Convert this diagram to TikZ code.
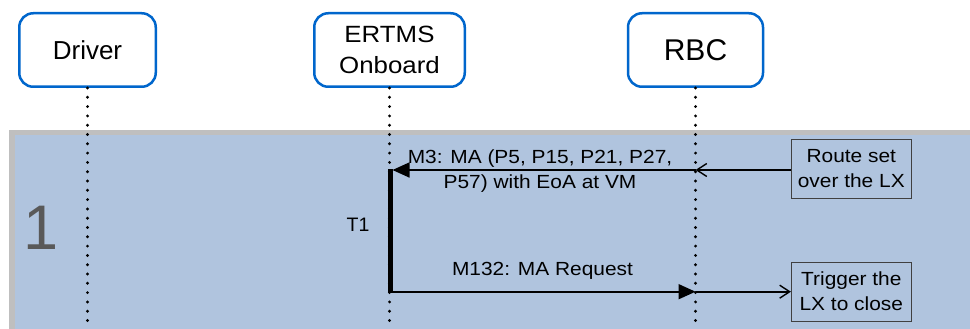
\documentclass[tikz,border=0pt]{standalone}
\usepackage{fontspec}
\setmainfont{Liberation Sans}
\newfontfamily\wideface[FakeStretch=1.1]{Liberation Sans}
\usetikzlibrary{arrows.meta}
\definecolor{bandblue}{RGB}{176,196,222}
\definecolor{bandgrey}{RGB}{191,191,191}
\definecolor{boxblue}{RGB}{0,102,204}
\definecolor{numgrey}{RGB}{89,89,89}
\definecolor{noteline}{RGB}{64,64,64}
\begin{document}
\begin{tikzpicture}[x=1pt,y=-1pt,
  lifebox/.style={draw=boxblue, line width=2.5pt, rounded corners=14pt, fill=white,
    minimum height=73.5pt, inner sep=0pt, align=center},
  lifeline/.style={line width=3.2pt, line cap=round, dash pattern=on 0pt off 9.3pt},
  actbar/.style={line width=5pt},
  msgline/.style={line width=1.7pt},
  filledtip/.style={-{Triangle[length=17pt,width=15pt]}},
  opentip/.style={-{Straight Barb[length=10pt,width=13pt,line width=1.4pt]}},
  notebox/.style={draw=noteline, line width=1pt, minimum width=119.7pt, minimum height=59pt,
    inner sep=0pt, align=center, font=\wideface\fontsize{19}{25}\selectfont},
  msglabel/.style={inner sep=0pt, align=center, font=\wideface\fontsize{19}{25}\selectfont}
]
\useasboundingbox (0,0) rectangle (970,329);
% band
\fill[bandgrey] (9,129.5) rectangle (970,329);
\fill[bandblue] (14.5,135) rectangle (970,329);

% lifeline heads
\node[lifebox, minimum width=136.5pt, font=\fontsize{26}{31}\selectfont] (drv) at (87.5,50) {Driver};
\node[lifebox, minimum width=150.5pt, font=\wideface\fontsize{23.5}{31.6}\selectfont] (ert) at (389.5,50) {ERTMS\\Onboard};
\node[lifebox, minimum width=135pt, font=\fontsize{30}{36}\selectfont] (rbc) at (695.5,50) {RBC};

% lifeline ends
\coordinate (drvEnd) at (87.5,329);
\coordinate (ertEnd) at (389.5,329);
\coordinate (rbcEnd) at (695.5,329);
\draw[lifeline] (drv.south) -- (drvEnd);
\draw[lifeline] (ert.south) -- (ertEnd);
\draw[lifeline] (rbc.south) -- (rbcEnd);

% step number and timer
\node[inner sep=0pt, text=numgrey, font=\fontsize{63}{70}\selectfont] (stepnum) at (40.8,227.5) {1};
\node[inner sep=0pt, font=\fontsize{19.5}{24}\selectfont] (tone) at (358,224.5) {T1};

% activation bar
\coordinate (actTop) at (390,169);
\coordinate (actBot) at (390,292.7);
\draw[actbar] (actTop) -- (actBot);

% notes
\node[notebox] (route) at (851.3,168.8) {Route set\\over the LX};
\node[notebox] (trig) at (851.3,291.7) {Trigger the\\LX to close};

% message points
\coordinate (rbcA) at (695.5,170);
\coordinate (ertA) at (392.5,170);
\coordinate (ertB) at (390,291.7);
\coordinate (rbcB) at (695.5,291.7);

\draw[msgline, opentip] (route.west |- rbcA) -- (rbcA);
\draw[msgline, filledtip] (rbcA) -- (ertA);
\node[msglabel] (m3) at (540,170.9) {M3: MA (P5, P15, P21, P27,\\P57) with EoA at VM};

\draw[msgline, filledtip] (ertB) -- (rbcB);
\draw[msgline, opentip] (rbcB) -- (trig.west);
\node[msglabel, anchor=base] (m132) at (542.5,275) {M132: MA Request};
\end{tikzpicture}
\end{document}
